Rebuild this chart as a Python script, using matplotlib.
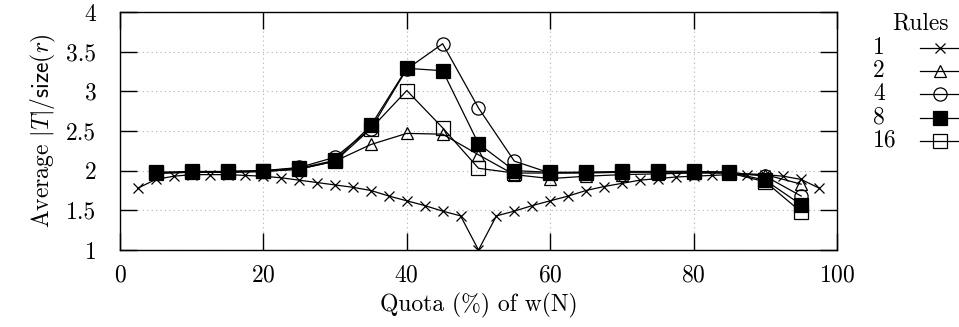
import matplotlib
matplotlib.use("Agg")
import matplotlib.pyplot as plt
from matplotlib.lines import Line2D

plt.rcParams['font.family'] = ['cmr10', 'DejaVu Serif']
plt.rcParams['mathtext.fontset'] = 'cm'
plt.rcParams['axes.formatter.use_mathtext'] = True

x_r1 = [2.5, 5, 7.5, 10, 12.5, 15, 17.5, 20, 22.5, 25, 27.5, 30, 32.5, 35, 37.5,
        40, 42.5, 45, 47.5, 50, 52.5, 55, 57.5, 60, 62.5, 65, 67.5, 70, 72.5, 75,
        77.5, 80, 82.5, 85, 87.5, 90, 92.5, 95, 97.5]
r1 = [1.78, 1.89, 1.93, 1.95, 1.95, 1.95, 1.94, 1.93, 1.91, 1.88, 1.85, 1.82, 1.79, 1.75, 1.68,
      1.62, 1.56, 1.49, 1.43, 1.00, 1.43, 1.49, 1.56, 1.62, 1.68, 1.75, 1.80, 1.84, 1.88, 1.90,
      1.92, 1.93, 1.94, 1.95, 1.95, 1.95, 1.93, 1.89, 1.78]

x = [5, 10, 15, 20, 25, 30, 35, 40, 45, 50, 55, 60, 65, 70, 75, 80, 85, 90, 95]
r2 = [1.97, 1.98, 1.98, 1.99, 2.02, 2.12, 2.33, 2.47, 2.46, 2.20, 1.95, 1.90, 1.93, 1.95, 1.96, 1.97, 1.97, 1.95, 1.83]
r4 = [1.97, 1.98, 1.99, 2.00, 2.04, 2.17, 2.53, 3.28, 3.60, 2.79, 2.12, 1.97, 1.98, 1.98, 1.99, 1.99, 1.98, 1.93, 1.68]
r8 = [1.98, 1.99, 1.99, 2.00, 2.03, 2.13, 2.57, 3.29, 3.26, 2.34, 2.00, 1.98, 1.98, 1.99, 1.99, 1.99, 1.98, 1.88, 1.57]
r16 = [1.97, 1.98, 1.98, 1.99, 2.02, 2.12, 2.53, 3.01, 2.54, 2.03, 1.97, 1.97, 1.97, 1.98, 1.98, 1.98, 1.97, 1.86, 1.48]

labels = ['1', '2', '4', '8', '16']
legend_title = 'Rules'

W, H = 959, 327
fig = plt.figure(figsize=(W / 100, H / 100), dpi=100)
ax = fig.add_axes([120 / W, 1 - 250 / H, 717 / W, 238 / H])

lw = 0.9
styles = [
    dict(marker='x', ms=7.5, mfc='black'),
    dict(marker='^', ms=9, mfc='none'),
    dict(marker='o', ms=9.5, mfc='none'),
    dict(marker='s', ms=9.5, mfc='black'),
    dict(marker='s', ms=9.5, mfc='none'),
]
series = [(x_r1, r1), (x, r2), (x, r4), (x, r8), (x, r16)]
for (xs, ys), st, lab in zip(series, styles, labels):
    ax.plot(xs, ys, color='black', lw=lw, mew=0.9, label=lab, **st)

ax.set_xlim(0, 100)
ax.set_ylim(1, 4)
ax.set_xticks([0, 20, 40, 60, 80, 100])
ax.set_yticks([1, 1.5, 2, 2.5, 3, 3.5, 4])
ax.set_yticklabels(['1', '1.5', '2', '2.5', '3', '3.5', '4'])
ax.tick_params(direction='in', length=12, width=1, top=True, right=True, labelsize=17)
ax.tick_params(axis='x', pad=10)
ax.tick_params(axis='y', pad=17)
ax.grid(True, color='#b0b0b0', linestyle=(0, (1, 3)), lw=0.8)
for s in ax.spines.values():
    s.set_linewidth(1.0)

ax.set_xlabel('Quota (%) of w(N)', fontsize=17, labelpad=5)
ax.set_ylabel(r'Average $|T|/\mathsf{size}(r)$', fontsize=17, labelpad=6)

# legend (gnuplot style: label left, sample right)
fig.text(920 / W, 1 - 23 / H, legend_title, fontsize=17, ha='center', va='center')
for i, (lab, st) in enumerate(zip(labels, styles)):
    yy = 1 - (48 + 23.2 * i) / H
    fig.text(873 / W, yy, lab, fontsize=17, ha='left', va='center')
    fig.add_artist(Line2D([920 / W, 1.0], [yy, yy], transform=fig.transFigure,
                          color='black', lw=lw))
    fig.add_artist(Line2D([940 / W], [yy], transform=fig.transFigure,
                          color='black', lw=0, mew=0.9, **st))

fig.savefig('out.png', dpi=100)
